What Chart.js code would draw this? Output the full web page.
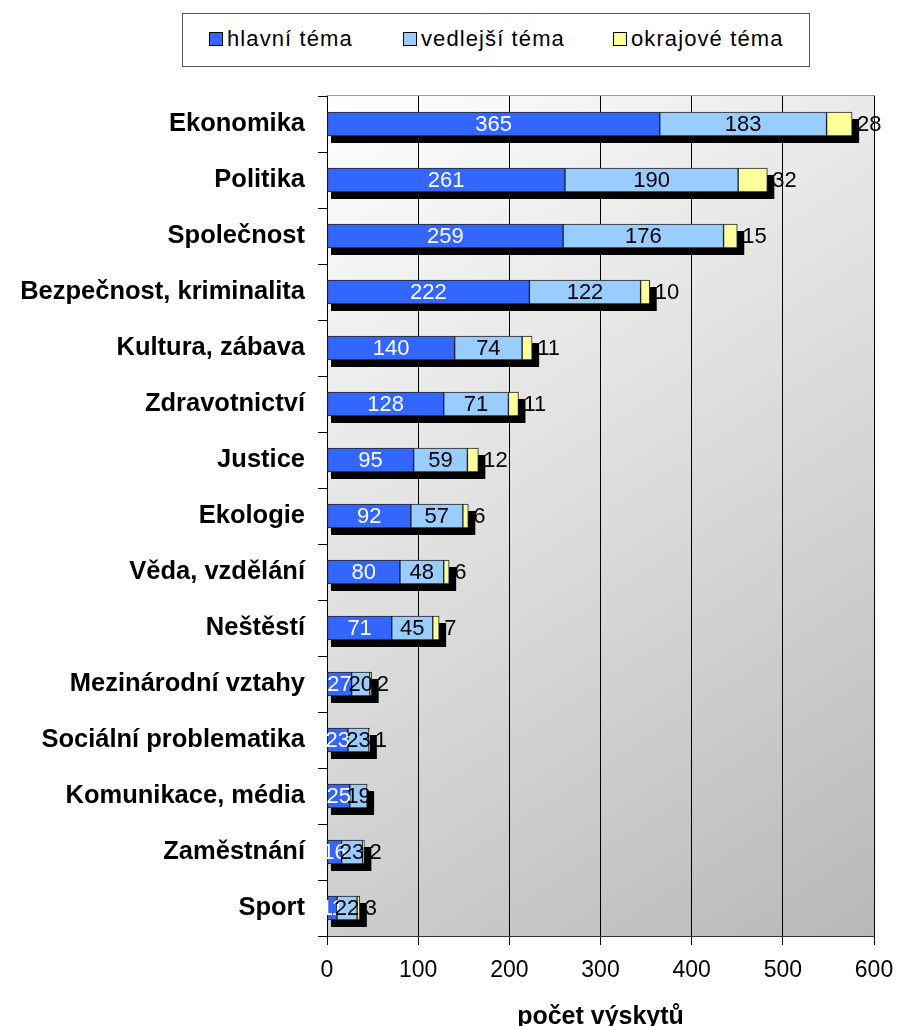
<!DOCTYPE html>
<html>
<head>
<meta charset="utf-8">
<script src="https://cdn.jsdelivr.net/npm/chart.js@4/dist/chart.umd.min.js"></script>
<style>
  body { margin: 0; background: #fff; }
  #wrap { position: relative; width: 897px; height: 1026px; }
  #legend {
    position: absolute; left: 182px; top: 13px; width: 626px; height: 52px;
    border: 1px solid #555; background: #fff;
    font-family: "Liberation Sans", Arial, sans-serif; font-size: 22px; color: #000;
    letter-spacing: 1.1px;
  }
  #legend .item { position: absolute; top: 12px; white-space: nowrap; line-height: 26px; }
  #legend .sw { display: inline-block; width: 12px; height: 12px; border: 1px solid #000; margin-right: 4px; vertical-align: 0px; }
</style>
</head>
<body>
<div id="wrap">
  <canvas id="myChart" width="897" height="1026"></canvas>
  <div id="legend"></div>
</div>
<script>
// categories and values
const categories = ['Ekonomika', 'Politika', 'Společnost', 'Bezpečnost, kriminalita', 'Kultura, zábava',
    'Zdravotnictví', 'Justice', 'Ekologie', 'Věda, vzdělání', 'Neštěstí', 'Mezinárodní vztahy',
    'Sociální problematika', 'Komunikace, média', 'Zaměstnání', 'Sport'];
const hlavni = [365, 261, 259, 222, 140, 128, 95, 92, 80, 71, 27, 23, 25, 16, 11];
const vedlejsi = [183, 190, 176, 122, 74, 71, 59, 57, 48, 45, 20, 23, 19, 23, 22];
const okrajove = [28, 32, 15, 10, 11, 11, 12, 6, 6, 7, 2, 1, 0, 2, 3];
const seriesNames = ['hlavní téma', 'vedlejší téma', 'okrajové téma'];
const seriesColors = ['#3366FF', '#99CCFF', '#FFFF99'];
const xTicks = [0, 100, 200, 300, 400, 500, 600];

const FONT = '"Liberation Sans", Arial, sans-serif';

// legend in a framed box
const legendBox = document.getElementById('legend');
const legendLeft = [26, 220, 430];
seriesNames.forEach((name, i) => {
    const d = document.createElement('div');
    d.className = 'item';
    d.style.left = legendLeft[i] + 'px';
    d.innerHTML = '<span class="sw" style="background:' + seriesColors[i] + '"></span>' + name;
    legendBox.appendChild(d);
});

// gradient plot background with grey frame
const plotBackground = {
    id: 'plotBackground',
    beforeDraw(chart) {
        const { ctx, chartArea: a } = chart;
        const g = ctx.createLinearGradient(a.left, a.top, a.right, a.bottom);
        g.addColorStop(0, '#ffffff');
        g.addColorStop(1, '#b8b8b8');
        ctx.save();
        ctx.fillStyle = g;
        ctx.fillRect(a.left, a.top, a.right - a.left, a.bottom - a.top);
        ctx.strokeStyle = '#999';
        ctx.lineWidth = 1;
        ctx.strokeRect(a.left + 0.5, a.top - 0.5, a.right - a.left, a.bottom - a.top + 1);
        ctx.restore();
    }
};

// black drop shadow behind each stacked bar
const barShadow = {
    id: 'barShadow',
    beforeDatasetsDraw(chart) {
        const { ctx, scales: { x, y } } = chart;
        const meta = chart.getDatasetMeta(0);
        ctx.save();
        ctx.fillStyle = '#000';
        categories.forEach((c, i) => {
            const total = hlavni[i] + vedlejsi[i] + okrajove[i];
            const x0 = x.getPixelForValue(0);
            const x1 = x.getPixelForValue(total);
            const h = meta.data[i].height;
            const yc = y.getPixelForValue(i);
            ctx.fillRect(x0 + 4, yc - h / 2 + 7, x1 - x0 + 3, h);
        });
        ctx.restore();
    }
};

// value labels
const barLabels = {
    id: 'barLabels',
    afterDatasetsDraw(chart) {
        const { ctx } = chart;
        ctx.save();
        ctx.font = '22px ' + FONT;
        ctx.textBaseline = 'middle';
        chart.data.datasets.forEach((ds, di) => {
            const meta = chart.getDatasetMeta(di);
            meta.data.forEach((el, i) => {
                const v = ds.data[i];
                if (!v) return;
                if (di === 2) {
                    ctx.fillStyle = '#000';
                    ctx.textAlign = 'left';
                    ctx.fillText(String(v), el.x + 5, el.y + 1);
                } else {
                    ctx.fillStyle = di === 0 ? '#fff' : '#000';
                    ctx.textAlign = 'center';
                    ctx.fillText(String(v), (el.x + el.base) / 2, el.y + 1);
                }
            });
        });
        ctx.restore();
    }
};

const ctx = document.getElementById('myChart').getContext('2d');
new Chart(ctx, {
    type: 'bar',
    data: {
        labels: categories,
        datasets: [hlavni, vedlejsi, okrajove].map((d, i) => ({
            label: seriesNames[i],
            data: d,
            backgroundColor: seriesColors[i],
            borderColor: '#222',
            borderWidth: 1,
            borderSkipped: false,
            barThickness: 24
        }))
    },
    options: {
        indexAxis: 'y',
        responsive: false,
        animation: false,
        events: [],
        layout: { padding: { top: 96, right: 23, left: 0, bottom: 0 } },
        plugins: { legend: { display: false }, tooltip: { enabled: false } },
        scales: {
            x: {
                stacked: true,
                min: 0,
                max: 600,
                afterBuildTicks(scale) { scale.ticks = xTicks.map(v => ({ value: v })); },
                afterFit(scale) {
                    scale.height = 90;
                    scale.paddingRight = 0;
                    scale.paddingLeft = 0;
                },
                grid: { color: '#000', lineWidth: 1, tickLength: 9, drawOnChartArea: true },
                border: { color: '#333', width: 1 },
                ticks: { color: '#000', font: { family: FONT, size: 23 }, padding: 12, maxRotation: 0 },
                title: {
                    display: true, text: 'počet výskytů', color: '#000',
                    font: { family: FONT, size: 25, weight: 'bold' }, padding: { top: 0, bottom: -6 }
                }
            },
            y: {
                stacked: true,
                afterFit(scale) { scale.width = 327; },
                grid: { offset: true, drawOnChartArea: false, color: '#000', tickLength: 9 },
                border: { color: '#000', width: 1 },
                ticks: { color: '#000', font: { family: FONT, size: 25.5, weight: 'bold' }, padding: 13, autoSkip: false }
            }
        }
    },
    plugins: [plotBackground, barShadow, barLabels]
});
</script>
</body>
</html>
